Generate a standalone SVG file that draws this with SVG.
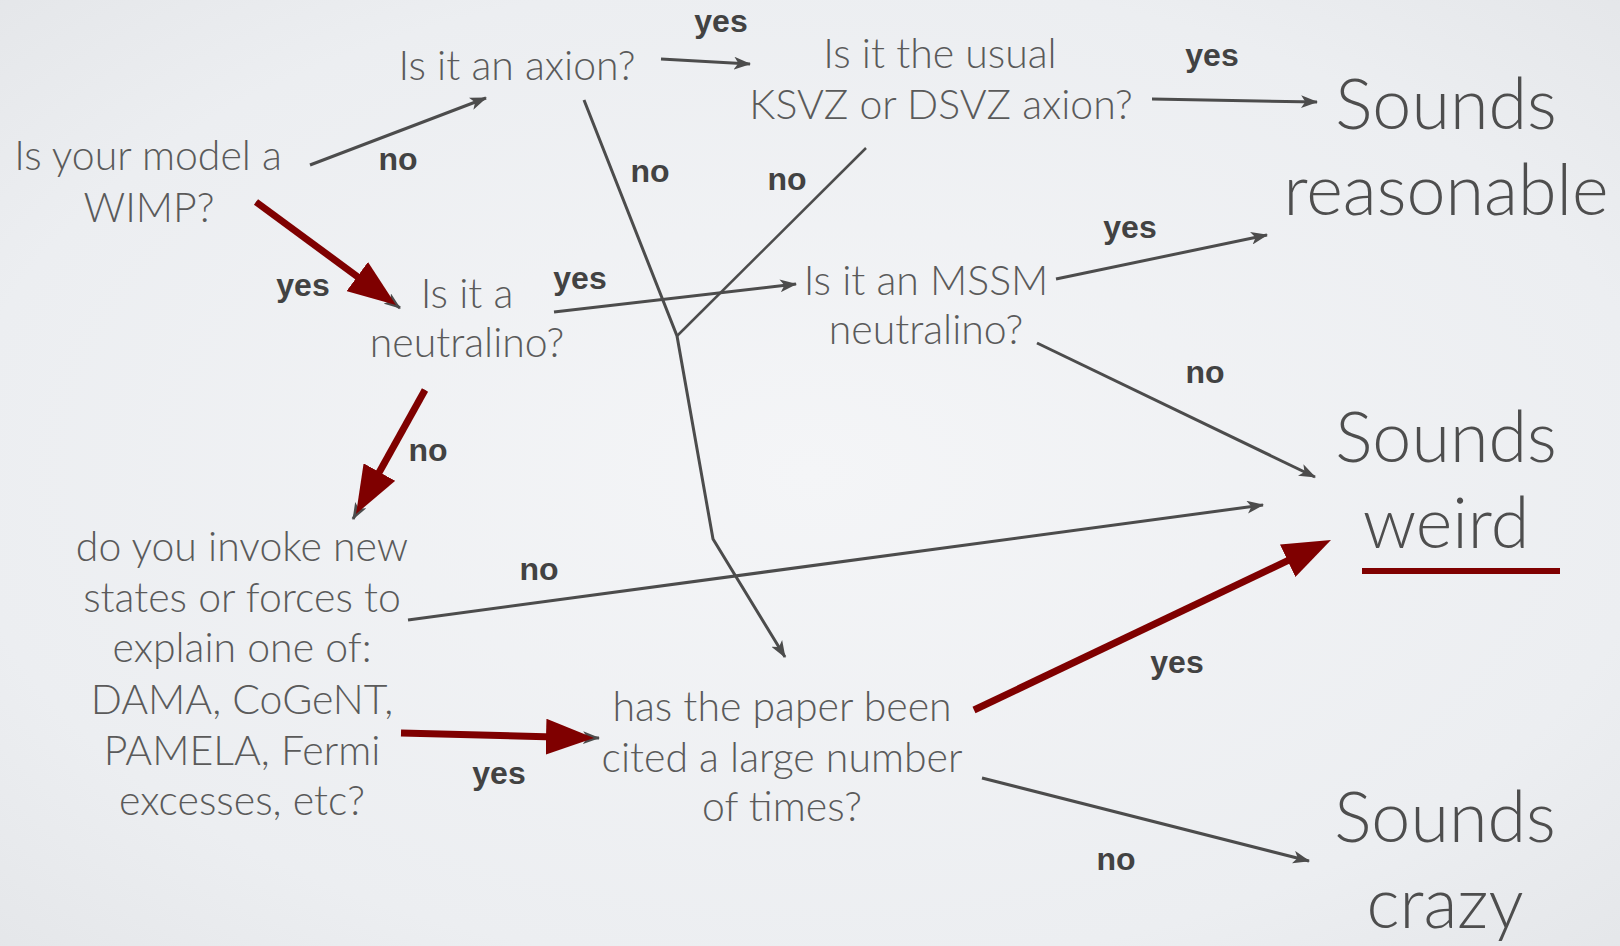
<svg xmlns="http://www.w3.org/2000/svg" width="1620" height="946" viewBox="0 0 1620 946">
<defs>
<radialGradient id="bg" cx="50%" cy="50%" r="75%">
<stop offset="0" stop-color="#f4f5f7"/>
<stop offset="0.7" stop-color="#eceef1"/>
<stop offset="1" stop-color="#e3e5e8"/>
</radialGradient>
<marker id="ag" viewBox="0 0 16 12" refX="15" refY="6" markerWidth="17" markerHeight="13" markerUnits="userSpaceOnUse" orient="auto">
<path d="M0,0 L16,6 L0,12 L4,6 z" fill="#4c4c4c"/>
</marker>
<marker id="ar" viewBox="0 0 48 36" refX="18" refY="18" markerWidth="48" markerHeight="36" markerUnits="userSpaceOnUse" orient="auto">
<path d="M0,0 L48,18 L0,36 z" fill="#7f0000"/>
</marker>
<style>
.q{font-family:Lato,"Liberation Sans",sans-serif;font-weight:300;font-size:41px;fill:#5a5a5a;text-anchor:middle}
.big{font-family:Lato,"Liberation Sans",sans-serif;font-weight:300;font-size:70px;fill:#4e4e4e;text-anchor:middle}
.lb{font-family:"Liberation Sans",Arial,sans-serif;font-weight:bold;font-size:32px;fill:#424242;text-anchor:middle}
.g{stroke:#4c4c4c;stroke-width:3;fill:none;marker-end:url(#ag)}
.gl{stroke:#4c4c4c;stroke-width:2.5;fill:none}
.r{stroke:#7f0000;stroke-width:7;fill:none;marker-end:url(#ar)}
</style>
</defs>
<rect width="1620" height="946" fill="url(#bg)"/>

<g id="connectors">
<path class="g" d="M310,165 L486,98"/>
<path class="g" d="M661,59 L750,64"/>
<path class="g" d="M1152,99 L1317,102"/>
<path class="gl" d="M866,148 L677,336"/>
<path class="g" d="M584,100 L677,336 L713,539 L785,657"/>
<path class="g" d="M554,312 L796,284"/>
<path class="g" d="M1056,279 L1267,235"/>
<path class="g" d="M1037,343 L1315,477"/>
<path class="g" d="M408,620 L1263,505"/>
<path class="g" d="M982,778 L1309,861"/>
<path class="g" d="M256,202 L400,308"/>
<path class="g" d="M425,390 L353,519"/>
<path class="g" d="M401,733 L599,738"/>
<path class="r" d="M256,202 L371.8,287.2"/>
<path class="r" d="M425,390 L370.6,487.8"/>
<path class="r" d="M401,733 L564,737.2"/>
<path class="r" d="M974,710 L1303.9,552.9"/>
<path d="M1362,571 L1560,571" stroke="#7f0000" stroke-width="6"/>
</g>

<g id="labels">
<text class="lb" x="721" y="32">yes</text>
<text class="lb" x="1212" y="66">yes</text>
<text class="lb" x="398" y="170">no</text>
<text class="lb" x="650" y="182">no</text>
<text class="lb" x="787" y="190">no</text>
<text class="lb" x="1130" y="238">yes</text>
<text class="lb" x="303" y="296">yes</text>
<text class="lb" x="580" y="289">yes</text>
<text class="lb" x="1205" y="383">no</text>
<text class="lb" x="428" y="461">no</text>
<text class="lb" x="539" y="580">no</text>
<text class="lb" x="499" y="784">yes</text>
<text class="lb" x="1177" y="673">yes</text>
<text class="lb" x="1116" y="870">no</text>
</g>

<g id="n-wimp"><text class="q" x="148" y="170">Is your model a</text><text class="q" x="149" y="222">WIMP?</text></g>
<g id="n-axion"><text class="q" x="517" y="80">Is it an axion?</text></g>
<g id="n-ksvz"><text class="q" x="940" y="68">Is it the usual</text><text class="q" x="941" y="119">KSVZ or DSVZ axion?</text></g>
<g id="n-neutralino"><text class="q" x="467" y="308">Is it a</text><text class="q" x="467" y="357">neutralino?</text></g>
<g id="n-mssm"><text class="q" x="926" y="295">Is it an MSSM</text><text class="q" x="926" y="344">neutralino?</text></g>
<g id="n-invoke">
<text class="q" x="242" y="561">do you invoke new</text>
<text class="q" x="242" y="612">states or forces to</text>
<text class="q" x="242" y="662">explain one of:</text>
<text class="q" x="242" y="714">DAMA, CoGeNT,</text>
<text class="q" x="242" y="765">PAMELA, Fermi</text>
<text class="q" x="242" y="815">excesses, etc?</text>
</g>
<g id="n-paper">
<text class="q" x="782" y="721">has the paper been</text>
<text class="q" x="782" y="772">cited a large number</text>
<text class="q" x="782" y="821">of times?</text>
</g>
<g id="n-reasonable"><text class="big" x="1446" y="129">Sounds</text><text class="big" x="1446" y="215">reasonable</text></g>
<g id="n-weird"><text class="big" x="1446" y="462">Sounds</text><text class="big" x="1446" y="548">weird</text></g>
<g id="n-crazy"><text class="big" x="1445" y="842">Sounds</text><text class="big" x="1445" y="928">crazy</text></g>
</svg>
